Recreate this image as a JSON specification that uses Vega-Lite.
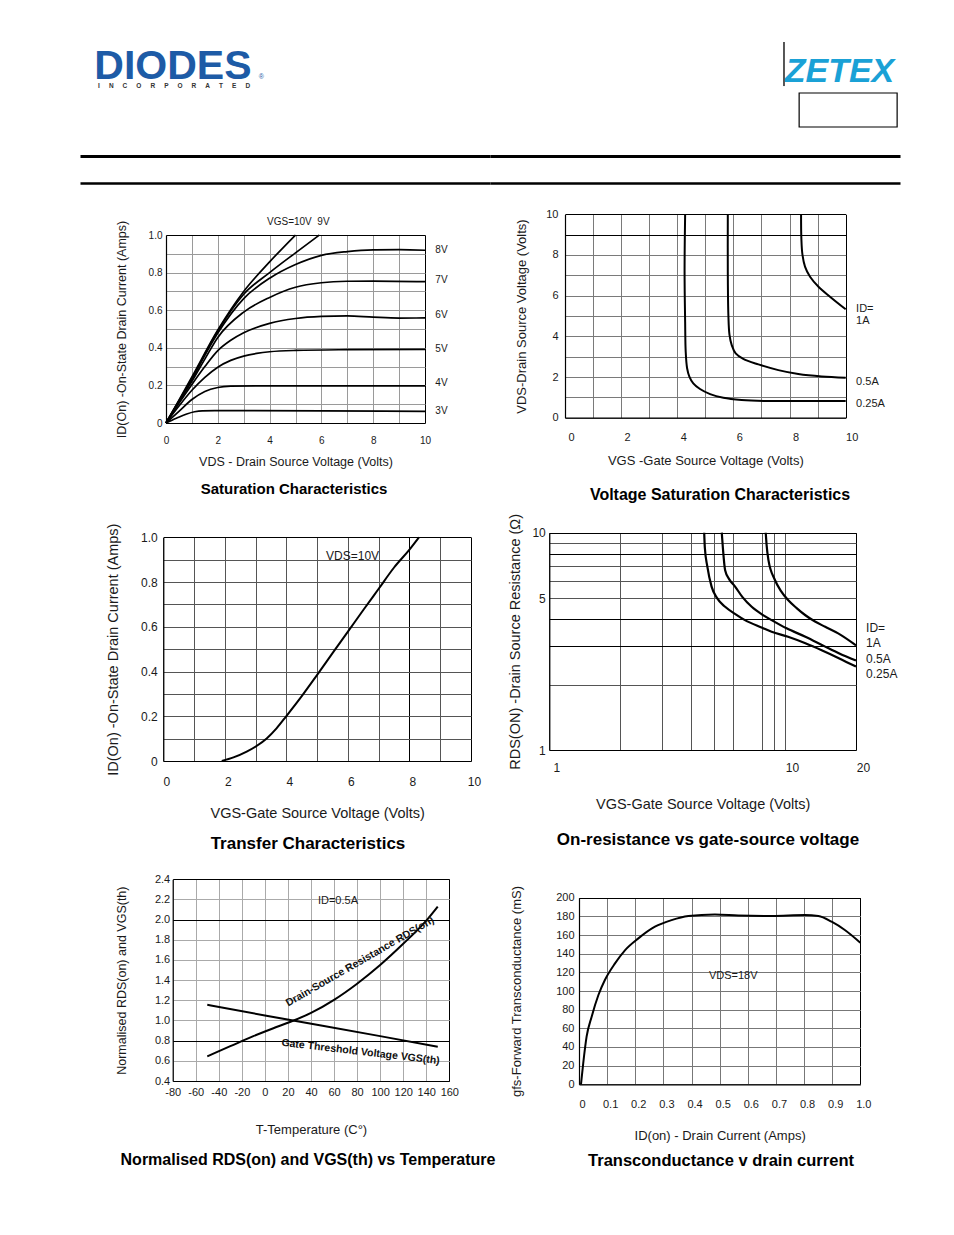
{
  "$schema": "https://vega.github.io/schema/vega-lite/v6.json",
  "background": "white",
  "padding": {"left": 77, "top": 40, "right": 57, "bottom": 35},
  "config": {
    "view": {"stroke": null},
    "font": "Liberation Sans",
    "axis": {"labelFont": "Liberation Sans", "titleFont": "Liberation Sans", "labelColor": "#1a1a1a", "titleColor": "#1a1a1a", "titleFontWeight": "normal", "ticks": false, "domainColor": "#000", "domainWidth": 1.2, "labelOverlap": false, "labelFlush": false, "gridWidth": 1},
    "title": {"font": "Liberation Sans", "fontWeight": "bold", "color": "#000", "orient": "bottom", "anchor": "middle"},
    "text": {"font": "Liberation Sans"}
  },
  "columns": 2,
  "spacing": 0,
  "bounds": "flush",
  "concat": [
    {
      "width": 410, "height": 116,
      "layer": [
        {"data": {"values": [{"t": "DIODES"}]}, "mark": {"type": "text", "align": "left", "baseline": "alphabetic", "fontSize": 41, "fontWeight": "bold", "color": "#1d5ba6"},
         "encoding": {"x": {"datum": 3.5, "type": "quantitative", "scale": {"domain": [0, 100], "nice": false, "zero": false}, "axis": {"orient": "bottom", "domainWidth": 3, "labels": false, "ticks": false, "grid": false, "title": null}},
                      "y": {"datum": 66.4, "type": "quantitative", "scale": {"domain": [0, 100], "nice": false, "zero": false}, "axis": null},
                      "text": {"field": "t"}}},
        {"data": {"values": [{"t": "I\u00a0\u00a0\u00a0\u00a0\u00a0N\u00a0\u00a0\u00a0\u00a0\u00a0C\u00a0\u00a0\u00a0\u00a0\u00a0O\u00a0\u00a0\u00a0\u00a0\u00a0R\u00a0\u00a0\u00a0\u00a0\u00a0P\u00a0\u00a0\u00a0\u00a0\u00a0O\u00a0\u00a0\u00a0\u00a0\u00a0R\u00a0\u00a0\u00a0\u00a0\u00a0A\u00a0\u00a0\u00a0\u00a0\u00a0T\u00a0\u00a0\u00a0\u00a0\u00a0E\u00a0\u00a0\u00a0\u00a0\u00a0D"}]}, "mark": {"type": "text", "align": "left", "baseline": "bottom", "fontSize": 6.5, "fontWeight": "bold", "color": "#333"},
         "encoding": {"x": {"datum": 4.4, "type": "quantitative", "scale": {"domain": [0, 100], "nice": false, "zero": false}, "axis": {"orient": "bottom", "domainWidth": 3, "labels": false, "ticks": false, "grid": false, "title": null}},
                      "y": {"datum": 57.5, "type": "quantitative", "scale": {"domain": [0, 100], "nice": false, "zero": false}, "axis": null},
                      "text": {"field": "t"}}},
        {"data": {"values": [{"t": "®"}]}, "mark": {"type": "text", "align": "left", "baseline": "alphabetic", "fontSize": 7, "color": "#1d5ba6"},
         "encoding": {"x": {"datum": 43.6, "type": "quantitative", "scale": {"domain": [0, 100], "nice": false, "zero": false}, "axis": {"orient": "bottom", "domainWidth": 3, "labels": false, "ticks": false, "grid": false, "title": null}},
                      "y": {"datum": 66.4, "type": "quantitative", "scale": {"domain": [0, 100], "nice": false, "zero": false}, "axis": null},
                      "text": {"field": "t"}}}
      ]
    },
    {
      "width": 410, "height": 116,
      "layer": [
        {"data": {"values": [{"t": "ZETEX"}]}, "mark": {"type": "text", "align": "right", "baseline": "alphabetic", "fontSize": 34, "fontWeight": "bold", "fontStyle": "italic", "font": "Liberation Sans", "color": "#1aa1d6"},
         "encoding": {"x": {"datum": 98.6, "type": "quantitative", "scale": {"domain": [0, 100], "nice": false, "zero": false}, "axis": {"orient": "bottom", "domainWidth": 3, "labels": false, "ticks": false, "grid": false, "title": null}},
                      "y": {"datum": 63.8, "type": "quantitative", "scale": {"domain": [0, 100], "nice": false, "zero": false}, "axis": null},
                      "text": {"field": "t"}}},
        {"data": {"values": [{"t": "bar"}]}, "mark": {"type": "rule", "color": "#555", "strokeWidth": 2},
         "encoding": {"x": {"datum": 71.7, "type": "quantitative", "scale": {"domain": [0, 100], "nice": false, "zero": false}, "axis": {"orient": "bottom", "domainWidth": 3, "labels": false, "ticks": false, "grid": false, "title": null}},
                      "y": {"datum": 98.3, "type": "quantitative", "scale": {"domain": [0, 100], "nice": false, "zero": false}, "axis": null},
                      "y2": {"datum": 60.3}}},
        {"data": {"values": [{"t": "box"}]}, "mark": {"type": "rect", "filled": false, "color": "#000", "strokeWidth": 1.2},
         "encoding": {"x": {"datum": 75.4, "type": "quantitative", "scale": {"domain": [0, 100], "nice": false, "zero": false}, "axis": {"orient": "bottom", "domainWidth": 3, "labels": false, "ticks": false, "grid": false, "title": null}},
                      "x2": {"datum": 99.3},
                      "y": {"datum": 54.3, "type": "quantitative", "scale": {"domain": [0, 100], "nice": false, "zero": false}, "axis": null},
                      "y2": {"datum": 25}}}
      ]
    },
    {
      "width": 410, "height": 27,
      "data": {"values": [{"v": 0}, {"v": 100}]},
      "mark": {"type": "point", "opacity": 0},
      "encoding": {"x": {"field": "v", "type": "quantitative", "scale": {"domain": [0, 100], "nice": false, "zero": false}, "axis": {"orient": "bottom", "domainWidth": 2.5, "labels": false, "ticks": false, "grid": false, "title": null}},
                   "y": {"datum": 50, "type": "quantitative", "scale": {"domain": [0, 100], "nice": false, "zero": false}, "axis": null}}
    },
    {
      "width": 410, "height": 27,
      "data": {"values": [{"v": 0}, {"v": 100}]},
      "mark": {"type": "point", "opacity": 0},
      "encoding": {"x": {"field": "v", "type": "quantitative", "scale": {"domain": [0, 100], "nice": false, "zero": false}, "axis": {"orient": "bottom", "domainWidth": 2.5, "labels": false, "ticks": false, "grid": false, "title": null}},
                   "y": {"datum": 50, "type": "quantitative", "scale": {"domain": [0, 100], "nice": false, "zero": false}, "axis": null}}
    },
    {
      "width": 410, "height": 332,
      "title": {"text": "Saturation Characteristics", "fontSize": 15, "offset": -33, "dx": 9},
      "encoding": {
        "y": {"field": "y", "type": "quantitative", "scale": {"domain": [0, 1], "range": [240, 52], "nice": false, "zero": false},
              "axis": {"values": [0, 0.1, 0.2, 0.3, 0.4, 0.5, 0.6, 0.7, 0.8, 0.9, 1], "labelExpr": "round(datum.value*10) % 2 == 0 ? (datum.value == 0 ? '0' : format(datum.value, '.1f')) : ''", "offset": -86, "labelPadding": 4, "labelFontSize": 10, "title": "ID(On) -On-State Drain Current (Amps)", "titleFontSize": 12.5, "titlePadding": 20,
                       "gridColor": {"condition": {"test": "datum.value == 1", "value": "#000"}, "value": "#9a9a9a"}}}
      },
      "layer": [
        {"data": {"values": [
          {"s": "3V", "x": 0, "y": 0}, {"s": "3V", "x": 0.4, "y": 0.025}, {"s": "3V", "x": 0.8, "y": 0.048}, {"s": "3V", "x": 1.1, "y": 0.06}, {"s": "3V", "x": 1.4, "y": 0.065}, {"s": "3V", "x": 3, "y": 0.066}, {"s": "3V", "x": 6, "y": 0.065}, {"s": "3V", "x": 10, "y": 0.062},
          {"s": "4V", "x": 0, "y": 0}, {"s": "4V", "x": 0.5, "y": 0.062}, {"s": "4V", "x": 1, "y": 0.125}, {"s": "4V", "x": 1.5, "y": 0.168}, {"s": "4V", "x": 2, "y": 0.189}, {"s": "4V", "x": 2.5, "y": 0.196}, {"s": "4V", "x": 3.5, "y": 0.198}, {"s": "4V", "x": 6, "y": 0.198}, {"s": "4V", "x": 10, "y": 0.197},
          {"s": "5V", "x": 0, "y": 0}, {"s": "5V", "x": 0.5, "y": 0.09}, {"s": "5V", "x": 1, "y": 0.174}, {"s": "5V", "x": 1.5, "y": 0.243}, {"s": "5V", "x": 2, "y": 0.297}, {"s": "5V", "x": 2.5, "y": 0.333}, {"s": "5V", "x": 3, "y": 0.356}, {"s": "5V", "x": 3.5, "y": 0.37}, {"s": "5V", "x": 4, "y": 0.379}, {"s": "5V", "x": 5, "y": 0.386}, {"s": "5V", "x": 7, "y": 0.39}, {"s": "5V", "x": 10, "y": 0.392},
          {"s": "6V", "x": 0, "y": 0}, {"s": "6V", "x": 0.5, "y": 0.105}, {"s": "6V", "x": 1, "y": 0.205}, {"s": "6V", "x": 1.5, "y": 0.3}, {"s": "6V", "x": 2, "y": 0.385}, {"s": "6V", "x": 2.5, "y": 0.44}, {"s": "6V", "x": 3, "y": 0.48}, {"s": "6V", "x": 4, "y": 0.53}, {"s": "6V", "x": 5, "y": 0.556}, {"s": "6V", "x": 6, "y": 0.567}, {"s": "6V", "x": 7, "y": 0.57}, {"s": "6V", "x": 8, "y": 0.563}, {"s": "6V", "x": 9, "y": 0.558}, {"s": "6V", "x": 10, "y": 0.559},
          {"s": "7V", "x": 0, "y": 0}, {"s": "7V", "x": 0.5, "y": 0.112}, {"s": "7V", "x": 1, "y": 0.222}, {"s": "7V", "x": 1.5, "y": 0.34}, {"s": "7V", "x": 2, "y": 0.455}, {"s": "7V", "x": 3, "y": 0.59}, {"s": "7V", "x": 4, "y": 0.668}, {"s": "7V", "x": 5, "y": 0.722}, {"s": "7V", "x": 6, "y": 0.746}, {"s": "7V", "x": 7, "y": 0.754}, {"s": "7V", "x": 8, "y": 0.755}, {"s": "7V", "x": 10, "y": 0.752},
          {"s": "8V", "x": 0, "y": 0}, {"s": "8V", "x": 0.5, "y": 0.116}, {"s": "8V", "x": 1, "y": 0.232}, {"s": "8V", "x": 1.5, "y": 0.36}, {"s": "8V", "x": 2, "y": 0.478}, {"s": "8V", "x": 3, "y": 0.662}, {"s": "8V", "x": 4, "y": 0.77}, {"s": "8V", "x": 5, "y": 0.843}, {"s": "8V", "x": 6, "y": 0.892}, {"s": "8V", "x": 7, "y": 0.912}, {"s": "8V", "x": 8, "y": 0.921}, {"s": "8V", "x": 9, "y": 0.922}, {"s": "8V", "x": 10, "y": 0.919},
          {"s": "9V", "x": 0, "y": 0}, {"s": "9V", "x": 0.5, "y": 0.118}, {"s": "9V", "x": 1, "y": 0.238}, {"s": "9V", "x": 2, "y": 0.489}, {"s": "9V", "x": 3, "y": 0.685}, {"s": "9V", "x": 4, "y": 0.8}, {"s": "9V", "x": 5, "y": 0.905}, {"s": "9V", "x": 5.92, "y": 1},
          {"s": "10V", "x": 0, "y": 0}, {"s": "10V", "x": 0.5, "y": 0.122}, {"s": "10V", "x": 1, "y": 0.245}, {"s": "10V", "x": 2, "y": 0.495}, {"s": "10V", "x": 3, "y": 0.7}, {"s": "10V", "x": 4, "y": 0.857}, {"s": "10V", "x": 5, "y": 1}
        ]},
         "mark": {"type": "line", "interpolate": "monotone", "strokeWidth": 1.7, "color": "#000"},
         "encoding": {"x": {"field": "x", "type": "quantitative", "scale": {"domain": [0, 10], "range": [86, 345], "nice": false, "zero": false},
                            "axis": {"orient": "bottom", "grid": false, "values": [0, 1, 2, 3, 4, 5, 6, 7, 8, 9, 10], "labelExpr": "round(datum.value) % 2 == 0 ? format(datum.value, 'd') : ''", "offset": -92, "labelPadding": 12, "labelFontSize": 10, "title": "VDS - Drain Source Voltage (Volts)", "titleFontSize": 12.5, "titlePadding": 10}},
                      "detail": {"field": "s"}}},
        {"data": {"values": [
          {"t": "VGS=10V\u00a0\u00a09V", "x": 3.9, "y": 1.07}, {"t": "8V", "x": 10.4, "y": 0.92}, {"t": "7V", "x": 10.4, "y": 0.76}, {"t": "6V", "x": 10.4, "y": 0.577}, {"t": "5V", "x": 10.4, "y": 0.396}, {"t": "4V", "x": 10.4, "y": 0.215}, {"t": "3V", "x": 10.4, "y": 0.066}
        ]},
         "mark": {"type": "text", "align": "left", "baseline": "middle", "fontSize": 10, "color": "#1a1a1a"},
         "encoding": {"x": {"field": "x", "type": "quantitative", "scale": {"domain": [0, 10], "range": [86, 345], "nice": false, "zero": false},
                            "axis": {"orient": "top", "grid": true, "labels": false, "domain": false, "ticks": false, "title": null, "values": [0, 1, 2, 3, 4, 5, 6, 7, 8, 9, 10],
                                     "gridColor": {"condition": {"test": "datum.value == 10", "value": "#000"}, "value": "#9a9a9a"}}},
                      "text": {"field": "t"}}}
      ],
      "resolve": {"axis": {"x": "independent"}}
    },
    {
      "width": 410, "height": 332,
      "title": {"text": "Voltage Saturation Characteristics", "fontSize": 16, "offset": -28, "dx": 25},
      "encoding": {
        "y": {"field": "y", "type": "quantitative", "scale": {"domain": [0, 10], "range": [234.7, 31.3], "nice": false, "zero": false},
              "axis": {"values": [0, 1, 2, 3, 4, 5, 6, 7, 8, 9, 10], "labelExpr": "round(datum.value) % 2 == 0 ? format(datum.value, 'd') : ''", "offset": -75, "labelPadding": 7, "labelFontSize": 11, "title": "VDS-Drain Source Voltage (Volts)", "titleFontSize": 13, "titlePadding": 17,
                       "gridColor": {"condition": {"test": "datum.value >= 9", "value": "#000"}, "value": "#7a7a7a"}}}
      },
      "layer": [
        {"data": {"values": [
          {"s": "0.25A", "i": 1, "x": 4.28, "y": 10}, {"s": "0.25A", "i": 2, "x": 4.26, "y": 7.18}, {"s": "0.25A", "i": 3, "x": 4.28, "y": 4.72}, {"s": "0.25A", "i": 4, "x": 4.3, "y": 3.25}, {"s": "0.25A", "i": 5, "x": 4.35, "y": 2.43}, {"s": "0.25A", "i": 6, "x": 4.43, "y": 2.02}, {"s": "0.25A", "i": 7, "x": 4.57, "y": 1.69}, {"s": "0.25A", "i": 8, "x": 4.81, "y": 1.41}, {"s": "0.25A", "i": 9, "x": 5.17, "y": 1.16}, {"s": "0.25A", "i": 10, "x": 5.64, "y": 0.98}, {"s": "0.25A", "i": 11, "x": 6.29, "y": 0.87}, {"s": "0.25A", "i": 12, "x": 7.13, "y": 0.82}, {"s": "0.25A", "i": 13, "x": 8.55, "y": 0.82}, {"s": "0.25A", "i": 14, "x": 10, "y": 0.82},
          {"s": "0.5A", "i": 1, "x": 5.8, "y": 10}, {"s": "0.5A", "i": 2, "x": 5.8, "y": 7.18}, {"s": "0.5A", "i": 3, "x": 5.82, "y": 5.05}, {"s": "0.5A", "i": 4, "x": 5.86, "y": 4.07}, {"s": "0.5A", "i": 5, "x": 5.94, "y": 3.57}, {"s": "0.5A", "i": 6, "x": 6.08, "y": 3.16}, {"s": "0.5A", "i": 7, "x": 6.35, "y": 2.89}, {"s": "0.5A", "i": 8, "x": 6.89, "y": 2.62}, {"s": "0.5A", "i": 9, "x": 7.6, "y": 2.34}, {"s": "0.5A", "i": 10, "x": 8.31, "y": 2.15}, {"s": "0.5A", "i": 11, "x": 9.14, "y": 2.03}, {"s": "0.5A", "i": 12, "x": 10, "y": 1.97},
          {"s": "1A", "i": 1, "x": 8.41, "y": 10}, {"s": "1A", "i": 2, "x": 8.42, "y": 8.82}, {"s": "1A", "i": 3, "x": 8.46, "y": 8.0}, {"s": "1A", "i": 4, "x": 8.55, "y": 7.43}, {"s": "1A", "i": 5, "x": 8.73, "y": 6.93}, {"s": "1A", "i": 6, "x": 9.03, "y": 6.44}, {"s": "1A", "i": 7, "x": 9.44, "y": 5.95}, {"s": "1A", "i": 8, "x": 10, "y": 5.33}
        ]},
         "mark": {"type": "line", "interpolate": "catmull-rom", "strokeWidth": 2, "color": "#000"},
         "encoding": {"x": {"field": "x", "type": "quantitative", "scale": {"domain": [0, 10], "range": [75, 355.7], "nice": false, "zero": false},
                            "axis": {"orient": "bottom", "grid": false, "values": [0, 1, 2, 3, 4, 5, 6, 7, 8, 9, 10], "labelExpr": "round(datum.value) % 2 == 0 ? format(datum.value, 'd') : ''", "offset": -97.3, "labelPadding": 14, "labelFontSize": 11, "labelOffset": 6, "title": "VGS -Gate Source Voltage (Volts)", "titleFontSize": 13, "titlePadding": 12}},
                      "detail": {"field": "s"}, "order": {"field": "i", "type": "quantitative"}}},
        {"data": {"values": [
          {"t": "ID=", "x": 10.37, "y": 5.34}, {"t": "1A", "x": 10.37, "y": 4.75}, {"t": "0.5A", "x": 10.37, "y": 1.74}, {"t": "0.25A", "x": 10.37, "y": 0.67}
        ]},
         "mark": {"type": "text", "align": "left", "baseline": "middle", "fontSize": 11, "color": "#1a1a1a"},
         "encoding": {"x": {"field": "x", "type": "quantitative", "scale": {"domain": [0, 10], "range": [75, 355.7], "nice": false, "zero": false},
                            "axis": {"orient": "top", "grid": true, "labels": false, "domain": false, "ticks": false, "title": null, "values": [0, 1, 2, 3, 4, 5, 6, 7, 8, 9, 10],
                                     "gridColor": {"condition": {"test": "datum.value == 10", "value": "#000"}, "value": "#7a7a7a"}}},
                      "text": {"field": "t"}}}
      ],
      "resolve": {"axis": {"x": "independent"}}
    },
    {
      "width": 410, "height": 350,
      "title": {"text": "Transfer Characteristics", "fontSize": 17, "offset": -29, "dx": 23},
      "encoding": {
        "y": {"field": "y", "type": "quantitative", "scale": {"domain": [0, 1], "range": [246, 22.3], "nice": false, "zero": false},
              "axis": {"values": [0, 0.1, 0.2, 0.3, 0.4, 0.5, 0.6, 0.7, 0.8, 0.9, 1], "labelExpr": "round(datum.value*10) % 2 == 0 ? (datum.value == 0 ? '0' : format(datum.value, '.1f')) : ''", "offset": -83.3, "labelPadding": 6, "labelFontSize": 12, "title": "ID(On) -On-State Drain Current (Amps)", "titleFontSize": 14.5, "titlePadding": 20,
                       "gridColor": {"condition": {"test": "datum.value == 1", "value": "#000"}, "value": "#555"}}}
      },
      "layer": [
        {"data": {"values": [
          {"x": 1.9, "y": 0}, {"x": 2.28, "y": 0.016}, {"x": 2.71, "y": 0.042}, {"x": 3.03, "y": 0.067}, {"x": 3.36, "y": 0.101}, {"x": 3.68, "y": 0.146}, {"x": 4.0, "y": 0.201}, {"x": 4.5, "y": 0.29}, {"x": 5.0, "y": 0.385}, {"x": 5.5, "y": 0.482}, {"x": 6.0, "y": 0.578}, {"x": 6.5, "y": 0.675}, {"x": 7.0, "y": 0.77}, {"x": 7.5, "y": 0.865}, {"x": 8.0, "y": 0.945}, {"x": 8.31, "y": 1.0}
        ]},
         "mark": {"type": "line", "interpolate": "monotone", "strokeWidth": 2, "color": "#000"},
         "encoding": {"x": {"field": "x", "type": "quantitative", "scale": {"domain": [0, 10], "range": [83.3, 391], "nice": false, "zero": false},
                            "axis": {"orient": "bottom", "grid": false, "values": [0, 1, 2, 3, 4, 5, 6, 7, 8, 9, 10], "labelExpr": "round(datum.value) % 2 == 0 ? format(datum.value, 'd') : ''", "offset": -104, "labelPadding": 15, "labelFontSize": 12, "labelOffset": 3, "title": "VGS-Gate Source Voltage  (Volts)", "titleFontSize": 14.5, "titlePadding": 19}}}},
        {"data": {"values": [{"t": "VDS=10V", "x": 5.29, "y": 0.916}]},
         "mark": {"type": "text", "align": "left", "baseline": "middle", "fontSize": 12, "color": "#1a1a1a"},
         "encoding": {"x": {"field": "x", "type": "quantitative", "scale": {"domain": [0, 10], "range": [83.3, 391], "nice": false, "zero": false},
                            "axis": {"orient": "top", "grid": true, "labels": false, "domain": false, "ticks": false, "title": null, "values": [0, 1, 2, 3, 4, 5, 6, 7, 8, 9, 10],
                                     "gridColor": {"condition": {"test": "datum.value == 10 || datum.value == 8", "value": "#000"}, "value": "#555"}}},
                      "text": {"field": "t"}}}
      ],
      "resolve": {"axis": {"x": "independent"}}
    },
    {
      "width": 410, "height": 350,
      "title": {"text": "On-resistance vs gate-source voltage", "fontSize": 17, "offset": -33, "dx": 13},
      "encoding": {
        "y": {"field": "y", "type": "quantitative", "scale": {"type": "log", "domain": [1, 10], "range": [235, 17.7], "nice": false},
              "axis": {"values": [1, 2, 3, 4, 5, 6, 7, 8, 9, 10], "labelExpr": "datum.value == 1 || datum.value == 5 || datum.value == 10 ? format(datum.value, 'd') : ''", "offset": -59.3, "labelPadding": 4, "labelFontSize": 12, "title": "RDS(ON) -Drain Source Resistance (Ω)", "titleFontSize": 14.5, "titlePadding": 9,
                       "gridColor": {"condition": {"test": "datum.value == 10 || datum.value == 8 || datum.value == 4 || datum.value == 3", "value": "#000"}, "value": "#555"}}}
      },
      "layer": [
        {"data": {"values": [
          {"s": "0.25A", "x": 4.54, "y": 10}, {"s": "0.25A", "x": 4.57, "y": 8.5}, {"s": "0.25A", "x": 4.68, "y": 7.0}, {"s": "0.25A", "x": 4.88, "y": 5.65}, {"s": "0.25A", "x": 5.15, "y": 5.0}, {"s": "0.25A", "x": 5.57, "y": 4.56}, {"s": "0.25A", "x": 6.2, "y": 4.2}, {"s": "0.25A", "x": 6.76, "y": 3.96}, {"s": "0.25A", "x": 8.0, "y": 3.65}, {"s": "0.25A", "x": 8.77, "y": 3.5}, {"s": "0.25A", "x": 10.3, "y": 3.32}, {"s": "0.25A", "x": 12.2, "y": 3.1}, {"s": "0.25A", "x": 14.3, "y": 2.88}, {"s": "0.25A", "x": 17, "y": 2.64}, {"s": "0.25A", "x": 20, "y": 2.42},
          {"s": "0.5A", "x": 5.39, "y": 10}, {"s": "0.5A", "x": 5.45, "y": 8.5}, {"s": "0.5A", "x": 5.57, "y": 6.72}, {"s": "0.5A", "x": 5.8, "y": 6.1}, {"s": "0.5A", "x": 6.14, "y": 5.65}, {"s": "0.5A", "x": 6.6, "y": 5.05}, {"s": "0.5A", "x": 7.22, "y": 4.56}, {"s": "0.5A", "x": 8.0, "y": 4.2}, {"s": "0.5A", "x": 8.77, "y": 3.96}, {"s": "0.5A", "x": 10.15, "y": 3.63}, {"s": "0.5A", "x": 12.2, "y": 3.32}, {"s": "0.5A", "x": 14.8, "y": 2.99}, {"s": "0.5A", "x": 17, "y": 2.78}, {"s": "0.5A", "x": 20, "y": 2.58},
          {"s": "1A", "x": 8.28, "y": 10}, {"s": "1A", "x": 8.35, "y": 8.8}, {"s": "1A", "x": 8.5, "y": 7.5}, {"s": "1A", "x": 9.06, "y": 6.06}, {"s": "1A", "x": 9.6, "y": 5.4}, {"s": "1A", "x": 10.3, "y": 4.9}, {"s": "1A", "x": 11.2, "y": 4.5}, {"s": "1A", "x": 12.2, "y": 4.17}, {"s": "1A", "x": 13.4, "y": 3.9}, {"s": "1A", "x": 14.8, "y": 3.69}, {"s": "1A", "x": 16.8, "y": 3.44}, {"s": "1A", "x": 20, "y": 3.03}
        ]},
         "mark": {"type": "line", "interpolate": "monotone", "strokeWidth": 2.2, "color": "#000"},
         "encoding": {"x": {"field": "x", "type": "quantitative", "scale": {"type": "log", "domain": [1, 20], "range": [59.3, 366], "nice": false},
                            "axis": {"orient": "bottom", "grid": false, "values": [1, 2, 3, 4, 5, 6, 8, 9, 10, 20], "labelExpr": "datum.value == 1 || datum.value == 10 || datum.value == 20 ? format(datum.value, 'd') : ''", "offset": -115, "labelPadding": 12, "labelFontSize": 12, "labelOffset": 7, "title": "VGS-Gate Source Voltage (Volts)", "titleFontSize": 14.5, "titlePadding": 24}},
                      "detail": {"field": "s"}}},
        {"data": {"values": [
          {"t": "ID=", "x": 22.07, "y": 3.64}, {"t": "1A", "x": 22.07, "y": 3.11}, {"t": "0.5A", "x": 22.07, "y": 2.62}, {"t": "0.25A", "x": 22.07, "y": 2.24}
        ]},
         "mark": {"type": "text", "align": "left", "baseline": "middle", "fontSize": 12, "color": "#1a1a1a"},
         "encoding": {"x": {"field": "x", "type": "quantitative", "scale": {"type": "log", "domain": [1, 20], "range": [59.3, 366], "nice": false},
                            "axis": {"orient": "top", "grid": true, "labels": false, "domain": false, "ticks": false, "title": null, "values": [1, 2, 3, 4, 5, 6, 8, 9, 10, 20],
                                     "gridColor": {"condition": {"test": "datum.value == 20", "value": "#000"}, "value": "#555"}}},
                      "text": {"field": "t"}}}
      ],
      "resolve": {"axis": {"x": "independent"}}
    },
    {
      "width": 410, "height": 335,
      "title": {"text": "Normalised RDS(on) and VGS(th) vs Temperature", "fontSize": 16, "offset": -48, "dx": 23},
      "encoding": {
        "y": {"field": "y", "type": "quantitative", "scale": {"domain": [0.4, 2.4], "range": [216, 14.3], "nice": false, "zero": false},
              "axis": {"values": [0.4, 0.6, 0.8, 1.0, 1.2, 1.4, 1.6, 1.8, 2.0, 2.2, 2.4], "format": ".1f", "offset": -92.7, "labelPadding": 3, "labelFontSize": 11, "title": "Normalised RDS(on) and VGS(th)", "titleFontSize": 12.5, "titlePadding": 26,
                       "gridColor": {"condition": {"test": "abs(datum.value-2.4) < 0.01 || abs(datum.value-2) < 0.01 || abs(datum.value-0.8) < 0.01", "value": "#000"}, "value": "#aaa"}}}
      },
      "layer": [
        {"data": {"values": [
          {"s": "RDS", "x": -50, "y": 0.645}, {"s": "RDS", "x": -30, "y": 0.745}, {"s": "RDS", "x": -10, "y": 0.845}, {"s": "RDS", "x": 10, "y": 0.935}, {"s": "RDS", "x": 25, "y": 1.0}, {"s": "RDS", "x": 40, "y": 1.075}, {"s": "RDS", "x": 60, "y": 1.205}, {"s": "RDS", "x": 80, "y": 1.365}, {"s": "RDS", "x": 100, "y": 1.55}, {"s": "RDS", "x": 120, "y": 1.76}, {"s": "RDS", "x": 140, "y": 1.99}, {"s": "RDS", "x": 150, "y": 2.13},
          {"s": "VGS", "x": -50, "y": 1.155}, {"s": "VGS", "x": 0, "y": 1.05}, {"s": "VGS", "x": 50, "y": 0.948}, {"s": "VGS", "x": 100, "y": 0.845}, {"s": "VGS", "x": 150, "y": 0.74}
        ]},
         "mark": {"type": "line", "interpolate": "monotone", "strokeWidth": 2, "color": "#000"},
         "encoding": {"x": {"field": "x", "type": "quantitative", "scale": {"domain": [-80, 160], "range": [92.7, 369.3], "nice": false, "zero": false},
                            "axis": {"orient": "bottom", "grid": false, "values": [-80, -60, -40, -20, 0, 20, 40, 60, 80, 100, 120, 140, 160], "labelExpr": "'' + datum.value", "offset": -119, "labelPadding": 5, "labelFontSize": 11, "title": "T-Temperature (C°)", "titleFontSize": 13, "titlePadding": 26}},
                      "detail": {"field": "s"}}},
        {"data": {"values": [{"t": "ID=0.5A", "x": 46, "y": 2.18}]},
         "mark": {"type": "text", "align": "left", "baseline": "middle", "fontSize": 11, "color": "#1a1a1a"},
         "encoding": {"x": {"field": "x", "type": "quantitative", "scale": {"domain": [-80, 160], "range": [92.7, 369.3], "nice": false, "zero": false},
                            "axis": {"orient": "top", "grid": true, "labels": false, "domain": false, "ticks": false, "title": null, "values": [-80, -60, -40, -20, 0, 20, 40, 60, 80, 100, 120, 140, 160],
                                     "gridColor": {"condition": {"test": "datum.value == 160", "value": "#000"}, "value": "#aaa"}}},
                      "text": {"field": "t"}}},
        {"data": {"values": [{"t": "Drain-Source Resistance RDS(on)", "x": 82.5, "y": 1.583}]},
         "mark": {"type": "text", "align": "center", "baseline": "middle", "angle": -30, "fontSize": 10.5, "fontWeight": "bold", "color": "#111"},
         "encoding": {"x": {"field": "x", "type": "quantitative", "scale": {"domain": [-80, 160], "range": [92.7, 369.3], "nice": false, "zero": false}, "axis": null},
                      "text": {"field": "t"}}},
        {"data": {"values": [{"t": "Gate Threshold Voltage VGS(th)", "x": 83, "y": 0.688}]},
         "mark": {"type": "text", "align": "center", "baseline": "middle", "angle": 6.6, "fontSize": 10.5, "fontWeight": "bold", "color": "#111"},
         "encoding": {"x": {"field": "x", "type": "quantitative", "scale": {"domain": [-80, 160], "range": [92.7, 369.3], "nice": false, "zero": false}, "axis": null},
                      "text": {"field": "t"}}}
      ],
      "resolve": {"axis": {"x": "independent"}}
    },
    {
      "width": 410, "height": 335,
      "title": {"text": "Transconductance v drain current", "fontSize": 16.5, "offset": -47, "dx": 26},
      "encoding": {
        "y": {"field": "y", "type": "quantitative", "scale": {"domain": [0, 200], "range": [219.3, 32.7], "nice": false, "zero": false},
              "axis": {"values": [0, 20, 40, 60, 80, 100, 120, 140, 160, 180, 200], "format": "d", "offset": -89, "labelPadding": 5, "labelFontSize": 11, "title": "gfs-Forward Transconductance (mS)", "titleFontSize": 13, "titlePadding": 32,
                       "gridColor": {"condition": {"test": "datum.value == 200", "value": "#000"}, "value": "#777"}}}
      },
      "layer": [
        {"data": {"values": [
          {"x": 0.007, "y": 0}, {"x": 0.015, "y": 22.5}, {"x": 0.027, "y": 51}, {"x": 0.045, "y": 72.5}, {"x": 0.069, "y": 95.7}, {"x": 0.092, "y": 111.8}, {"x": 0.128, "y": 129.6}, {"x": 0.164, "y": 143.9}, {"x": 0.211, "y": 156.4}, {"x": 0.27, "y": 168.9}, {"x": 0.329, "y": 176}, {"x": 0.389, "y": 180.4}, {"x": 0.483, "y": 182.1}, {"x": 0.566, "y": 181}, {"x": 0.685, "y": 180.4}, {"x": 0.803, "y": 181.4}, {"x": 0.851, "y": 180.4}, {"x": 0.898, "y": 174.3}, {"x": 0.945, "y": 165.4}, {"x": 1.0, "y": 151.8}
        ]},
         "mark": {"type": "line", "interpolate": "monotone", "strokeWidth": 2, "color": "#000"},
         "encoding": {"x": {"field": "x", "type": "quantitative", "scale": {"domain": [0, 1], "range": [89, 370.3], "nice": false, "zero": false},
                            "axis": {"orient": "bottom", "grid": false, "values": [0, 0.1, 0.2, 0.3, 0.4, 0.5, 0.6, 0.7, 0.8, 0.9, 1], "labelExpr": "datum.value == 0 ? '0' : format(datum.value, '.1f')", "offset": -115.7, "labelPadding": 14, "labelFontSize": 11, "labelOffset": 3, "title": "ID(on) - Drain Current (Amps)", "titleFontSize": 13, "titlePadding": 20}}}},
        {"data": {"values": [{"t": "VDS=18V", "x": 0.462, "y": 116}]},
         "mark": {"type": "text", "align": "left", "baseline": "middle", "fontSize": 11, "color": "#1a1a1a"},
         "encoding": {"x": {"field": "x", "type": "quantitative", "scale": {"domain": [0, 1], "range": [89, 370.3], "nice": false, "zero": false},
                            "axis": {"orient": "top", "grid": true, "labels": false, "domain": false, "ticks": false, "title": null, "values": [0, 0.1, 0.2, 0.3, 0.4, 0.5, 0.6, 0.7, 0.8, 0.9, 1],
                                     "gridColor": {"condition": {"test": "datum.value >= 0.99", "value": "#000"}, "value": "#777"}}},
                      "text": {"field": "t"}}}
      ],
      "resolve": {"axis": {"x": "independent"}}
    }
  ]
}
